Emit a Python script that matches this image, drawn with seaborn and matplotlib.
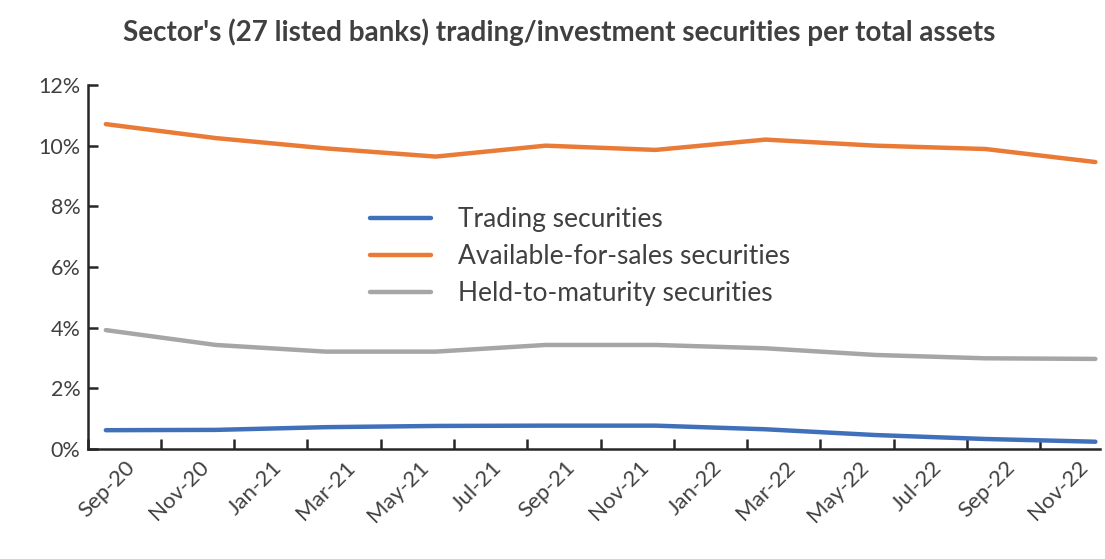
import numpy as np
import pandas as pd
import matplotlib
matplotlib.use("Agg")
import matplotlib.pyplot as plt
from matplotlib.ticker import FixedLocator, FuncFormatter
import seaborn as sns

# Quarter-end observations, share of total assets (%)
quarters = ["Sep-20", "Dec-20", "Mar-21", "Jun-21", "Sep-21",
            "Dec-21", "Mar-22", "Jun-22", "Sep-22", "Dec-22"]
trading = [0.62, 0.63, 0.72, 0.76, 0.77, 0.77, 0.65, 0.46, 0.33, 0.24]
available_for_sale = [10.71, 10.25, 9.91, 9.64, 10.00, 9.86, 10.20, 10.00, 9.89, 9.46]
held_to_maturity = [3.92, 3.43, 3.21, 3.21, 3.43, 3.43, 3.32, 3.10, 2.99, 2.97]

series_names = ["Trading securities",
                "Available-for-sales securities",
                "Held-to-maturity securities"]
tick_labels = ["Sep-20", "Nov-20", "Jan-21", "Mar-21", "May-21", "Jul-21", "Sep-21",
               "Nov-21", "Jan-22", "Mar-22", "May-22", "Jul-22", "Sep-22", "Nov-22"]
y_ticks = [0, 2, 4, 6, 8, 10, 12]
title = "Sector's (27 listed banks) trading/investment securities per total assets"
colors = ["#4170BB", "#EA7B36", "#A6A6A6"]


def month_index(labels):
    d = pd.to_datetime(labels, format="%b-%y")
    return (d.year - 2020) * 12 + d.month - 9


x_q = month_index(quarters)
df = pd.concat([
    pd.DataFrame({"month": x_q, "value": vals, "series": name})
    for name, vals in zip(series_names, [trading, available_for_sale, held_to_maturity])
], ignore_index=True)

sns.set_theme(style="white")
plt.rcParams["font.family"] = ["Lato", "DejaVu Sans"]
text_color = "#404040"

W, H = 1105, 559
fig = plt.figure(figsize=(W / 100, H / 100), dpi=100)
left, right, top, bottom = 87.5, 1100, 85, 449
ax = fig.add_axes([left / W, 1 - bottom / H, (right - left) / W, (bottom - top) / H])

sns.lineplot(data=df, x="month", y="value", hue="series", hue_order=series_names,
             palette=colors, linewidth=3.2, ax=ax, legend=True)

px_per_month = 36.65
ax.set_xlim(-0.5, -0.5 + (right - left) / px_per_month)
ax.set_ylim(0, 12)

# Rotated category labels end just right of each two-month slot's centre;
# visible tick marks sit on the slot edges
label_pos = month_index(tick_labels) + 0.5 + 8 / px_per_month
ax.xaxis.set_major_locator(FixedLocator(label_pos))
ax.set_xticklabels(tick_labels, fontsize=16, color=text_color)
plt.setp(ax.get_xticklabels(), rotation=45, ha="right", va="center",
         rotation_mode="anchor")
ax.xaxis.set_minor_locator(FixedLocator(month_index(tick_labels) - 0.5))
ax.tick_params(axis="x", which="major", length=0, pad=11)
ax.tick_params(axis="x", which="minor", direction="in", length=7, width=1.8,
               color="#262626", bottom=True)

ax.yaxis.set_major_locator(FixedLocator(y_ticks))
ax.yaxis.set_major_formatter(FuncFormatter(lambda v, _: f"{v:.0f}%"))
ax.tick_params(axis="y", direction="in", length=7, width=1.8, color="#262626",
               labelsize=15.5, labelcolor=text_color, pad=5, left=True)

ax.set_xlabel("")
ax.set_ylabel("")
for side in ["top", "right"]:
    ax.spines[side].set_visible(False)
for side in ["left", "bottom"]:
    ax.spines[side].set_color("#262626")
    ax.spines[side].set_linewidth(1.8)

handles, labels = ax.get_legend_handles_labels()
ax.legend(handles, labels, frameon=False, loc="upper left",
          bbox_to_anchor=(370 / W, 1 - 207 / H), bbox_transform=fig.transFigure,
          borderaxespad=0, handlelength=2.3, handletextpad=1.05, labelspacing=0.45,
          borderpad=0, fontsize=19, labelcolor=text_color)

fig.text(559 / W, 1 - 32 / H, title, ha="center", va="center", fontsize=20,
         fontweight="bold", color=text_color)

fig.savefig("out.png", dpi=100, facecolor="white")
